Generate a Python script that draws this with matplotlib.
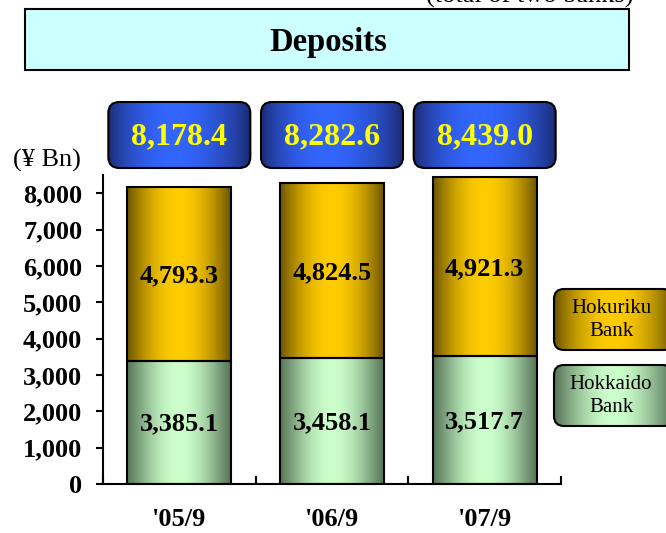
import numpy as np
import matplotlib
matplotlib.use('Agg')
import matplotlib.pyplot as plt
from matplotlib.patches import FancyBboxPatch, Rectangle
from matplotlib.colors import to_rgb

# data (¥ Bn)
periods = ["'05/9", "'06/9", "'07/9"]
hokkaido = [3385.1, 3458.1, 3517.7]
hokuriku = [4793.3, 4824.5, 4921.3]
totals = [8178.4, 8282.6, 8439.0]
yticks = [0, 1000, 2000, 3000, 4000, 5000, 6000, 7000, 8000]

plt.rcParams['font.family'] = ['Liberation Serif', 'DejaVu Serif']

W, H = 666, 533


# horizontal gradient: dark at the edges, light near the peak
def grad_img(edge, mid, peak=0.5, power=1.0, n=256):
    t = np.linspace(0, 1, n)
    u = np.where(t <= peak, t / peak, (1 - t) / (1 - peak))
    f = np.sin(u * np.pi / 2) ** power
    a, m = np.array(to_rgb(edge)), np.array(to_rgb(mid))
    return (a[None, :] + (m - a)[None, :] * f[:, None])[None, :, :]


gold = grad_img('#6a5200', '#ffcc00', power=0.9)
green = grad_img('#587658', '#ccffcc', power=1.1)
blue = grad_img('#1a2a70', '#3366ff', peak=0.45, power=0.8)

fig = plt.figure(figsize=(W / 100, H / 100), dpi=100)
ax = fig.add_axes([103 / W, 1 - 484 / H, 458 / W, 309 / H])
ov = fig.add_axes([0, 0, 1, 1], zorder=-1)
ov.set_xlim(0, W)
ov.set_ylim(0, H)
ov.axis('off')

x = np.arange(len(periods))
bw = 0.68
b1 = ax.bar(x, hokkaido, bw, color='none', edgecolor='black', linewidth=1.5, zorder=3)
b2 = ax.bar(x, hokuriku, bw, bottom=hokkaido, color='none', edgecolor='black', linewidth=1.5, zorder=3)

for bars, img in ((b1, green), (b2, gold)):
    for r in bars:
        x0, y0 = r.get_x(), r.get_y()
        ax.imshow(img, extent=[x0, x0 + r.get_width(), y0, y0 + r.get_height()],
                  aspect='auto', zorder=2, interpolation='bilinear')

for i in range(len(periods)):
    ax.text(x[i], hokkaido[i] / 2 - 40, f'{hokkaido[i]:,.1f}', ha='center', va='center',
            fontsize=19, fontweight='bold', zorder=4)
    ax.text(x[i], hokkaido[i] + hokuriku[i] / 2 - 60, f'{hokuriku[i]:,.1f}', ha='center', va='center',
            fontsize=19, fontweight='bold', zorder=4)

ax.set_xlim(-0.5, 2.5)
ax.set_ylim(0, 8500)
ax.set_aspect('auto')
ax.set_yticks(yticks)
ax.set_yticklabels([f'{v:,}' for v in yticks], fontsize=19, fontweight='bold')
ax.tick_params(axis='y', direction='out', length=5, width=1.5, pad=10)
ax.set_xticks([-0.5, 0.5, 1.5, 2.5])
ax.set_xticklabels([])
ax.tick_params(axis='x', direction='in', length=6, width=1.5)
ax.set_xticks(x, minor=True)
ax.set_xticklabels(periods, minor=True, fontsize=19, fontweight='bold')
ax.tick_params(axis='x', which='minor', length=0, pad=17)
for s in ('top', 'right'):
    ax.spines[s].set_visible(False)
for s in ('left', 'bottom'):
    ax.spines[s].set_linewidth(1.5)
ax.set_facecolor('none')


def rbox(x0, y0, w, h, img, rad=10, lw=1.5):
    p = FancyBboxPatch((x0 + rad, y0 + rad), w - 2 * rad, h - 2 * rad,
                       boxstyle=f'round,pad={rad}', facecolor='none',
                       edgecolor='black', linewidth=lw, zorder=3)
    ov.add_patch(p)
    im = ov.imshow(img, extent=[x0, x0 + w, y0, y0 + h], aspect='auto',
                   zorder=2, interpolation='bilinear')
    im.set_clip_path(p)


# title box (the note above it is cut off by the top edge, as in the original)
ov.add_patch(Rectangle((25, H - 70), 604, 61, facecolor='#ccffff', edgecolor='black', linewidth=1.5))
ov.text(328, H - 42, 'Deposits', ha='center', va='center', fontsize=23.5, fontweight='bold')
ov.text(530, H - 8, '(total of two banks)', ha='center', va='bottom', fontsize=19)
ov.text(47, H - 160, '(¥ Bn)', ha='center', va='center', fontsize=19)

# total boxes above bars
for i in range(len(periods)):
    cx = ax.transData.transform((x[i], 0))[0]
    rbox(cx - 71, H - 168, 142, 66, blue, rad=11)
    ov.text(cx, H - 137, f'{totals[i]:,.1f}', ha='center', va='center', fontsize=23,
            fontweight='bold', color='#ffff00', zorder=4)

# legend boxes
rbox(554, H - 350, 120, 61, gold, rad=10)
ov.text(611, H - 320, 'Hokuriku\nBank', ha='center', va='center', fontsize=15, linespacing=1.25, zorder=4)
rbox(554, H - 426, 120, 61, green, rad=10)
ov.text(611, H - 396, 'Hokkaido\nBank', ha='center', va='center', fontsize=15, linespacing=1.25, zorder=4)

ov.set_xlim(0, W)
ov.set_ylim(0, H)
fig.savefig('out.png', dpi=100)
